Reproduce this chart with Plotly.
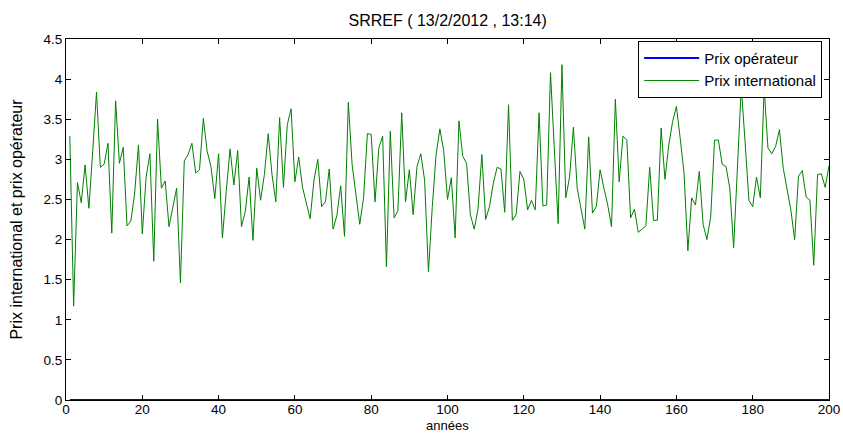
import plotly.graph_objects as go

annees = list(range(1, 201))

prix_international = [
    3.29, 1.17, 2.71, 2.46, 2.93, 2.39, 3.10, 3.84, 2.90, 2.94,
    3.20, 2.08, 3.73, 2.95, 3.15, 2.17, 2.23, 2.58, 3.18, 2.07,
    2.78, 3.07, 1.73, 3.50, 2.64, 2.73, 2.16, 2.40, 2.64, 1.46,
    2.98, 3.06, 3.20, 2.83, 2.87, 3.51, 3.10, 2.91, 2.51, 3.07,
    2.02, 2.60, 3.13, 2.68, 3.11, 2.16, 2.35, 2.78, 1.99, 2.89,
    2.49, 2.81, 3.32, 2.81, 2.47, 3.52, 2.65, 3.43, 3.63, 2.72,
    3.03, 2.65, 2.45, 2.26, 2.74, 3.00, 2.41, 2.47, 2.88, 2.13,
    2.30, 2.67, 2.04, 3.71, 2.93, 2.54, 2.19, 2.52, 3.32, 3.31,
    2.47, 3.14, 3.29, 1.66, 3.35, 2.27, 2.36, 3.58, 2.47, 2.87,
    2.31, 2.91, 3.07, 2.74, 1.60, 2.40, 3.05, 3.38, 3.11, 2.50,
    2.77, 2.02, 3.48, 3.04, 2.95, 2.31, 2.13, 2.38, 3.06, 2.25,
    2.41, 2.70, 2.90, 2.88, 2.34, 3.68, 2.24, 2.31, 2.85, 2.75,
    2.37, 2.49, 2.37, 3.58, 2.42, 2.43, 4.08, 3.13, 2.20, 4.18,
    2.52, 2.78, 3.40, 2.64, 2.38, 2.13, 3.28, 2.33, 2.41, 2.87,
    2.64, 2.43, 2.16, 3.75, 2.72, 3.29, 3.24, 2.27, 2.38, 2.09,
    2.13, 2.17, 2.90, 2.24, 2.24, 3.39, 2.75, 3.18, 3.47, 3.66,
    3.26, 2.83, 1.86, 2.52, 2.43, 2.85, 2.19, 2.00, 2.29, 3.24,
    3.24, 2.94, 2.91, 2.64, 1.90, 2.90, 3.90, 3.22, 2.49, 2.41,
    2.78, 2.52, 3.89, 3.14, 3.07, 3.16, 3.37, 2.89, 2.64, 2.37,
    2.00, 2.79, 2.86, 2.53, 2.49, 1.68, 2.81, 2.82, 2.65, 2.92,
]

prix_operateur = [0.0] * 200

x_ticks = [0, 20, 40, 60, 80, 100, 120, 140, 160, 180, 200]
y_ticks = [0, 0.5, 1, 1.5, 2, 2.5, 3, 3.5, 4, 4.5]
y_tick_labels = ["0", "0.5", "1", "1.5", "2", "2.5", "3", "3.5", "4", "4.5"]

FONT = "Liberation Sans, Arial, sans-serif"

fig = go.Figure()
fig.add_trace(go.Scatter(x=annees, y=prix_operateur, mode="lines",
                         name="Prix opérateur",
                         line=dict(color="#0000FF", width=2)))
fig.add_trace(go.Scatter(x=annees, y=prix_international, mode="lines",
                         name="Prix international",
                         line=dict(color="#008000", width=1)))

axis_common = dict(showline=True, linecolor="black", linewidth=1,
                   mirror="ticks", ticks="inside", ticklen=5,
                   tickcolor="black", showgrid=False, zeroline=False,
                   automargin=False,
                   tickfont=dict(family=FONT, size=13.5, color="black"))

fig.update_xaxes(range=[0, 200], tickvals=x_ticks, ticklabelstandoff=-3, **axis_common)
fig.update_yaxes(range=[0, 4.5], tickvals=y_ticks, ticktext=y_tick_labels,
                 title=dict(text="Prix international et prix opérateur",
                            font=dict(family=FONT, size=16, color="black"), standoff=16),
                 **axis_common)

# x-axis title, sitting at the very bottom of the page as in the original
fig.add_annotation(text="années", xref="paper", yref="paper", x=0.5, y=-0.0942,
                   xanchor="center", yanchor="bottom", showarrow=False, borderpad=0,
                   font=dict(family=FONT, size=13, color="black"))

fig.update_layout(
    template="none",
    width=843, height=434,
    margin=dict(l=66, r=14, t=39, b=34),
    paper_bgcolor="white", plot_bgcolor="white",
    title=dict(text="SRREF ( 13/2/2012 , 13:14)", x=0.531, xanchor="center",
               y=0.952, yanchor="middle",
               font=dict(family=FONT, size=16, color="black")),
    legend=dict(x=0.991, y=0.995, xanchor="right", yanchor="top",
                bgcolor="white", bordercolor="black", borderwidth=1,
                font=dict(family=FONT, size=15, color="black"),
                tracegroupgap=0, itemwidth=55),
    showlegend=True,
)

fig.write_html("out.html")
